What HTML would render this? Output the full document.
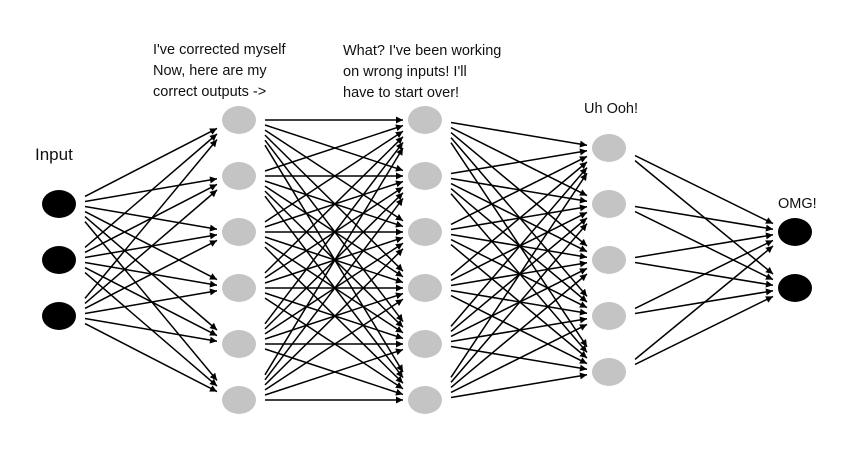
<!DOCTYPE html>
<html><head><meta charset="utf-8"><style>
html,body{margin:0;padding:0;background:#fff;width:841px;height:451px;overflow:hidden}
svg{display:block}
text{font-family:"Liberation Sans",sans-serif;fill:#111}
</style></head><body>
<svg id="s" width="841" height="451" viewBox="0 0 841 451" xmlns="http://www.w3.org/2000/svg">
<defs><marker id="a" viewBox="0 0 10 10" refX="10" refY="5" markerWidth="11" markerHeight="7" markerUnits="userSpaceOnUse" orient="auto"><path d="M0,0L10,5L0,10z" fill="#000"/></marker></defs>
<g id="L" stroke="#000" stroke-width="1.5"></g>
<g id="N"></g>
<text x="35" y="160" font-size="17">Input</text>
<text x="153" y="54" font-size="14.5">I've corrected myself</text>
<text x="153" y="75" font-size="14.5">Now, here are my</text>
<text x="153" y="96" font-size="14.5">correct outputs -&gt;</text>
<text x="343" y="55" font-size="14.5">What? I've been working</text>
<text x="343" y="76" font-size="14.5">on wrong inputs! I'll</text>
<text x="343" y="97" font-size="14.5">have to start over!</text>
<text x="584" y="113" font-size="14.5">Uh Ooh!</text>
<text x="778" y="208" font-size="14.5">OMG!</text>
</svg>
<script>
var layers=[
 {x:59,ys:[204,260,316],c:"#000"},
 {x:239,ys:[120,176,232,288,344,400],c:"#c4c4c4"},
 {x:425,ys:[120,176,232,288,344,400],c:"#c4c4c4"},
 {x:609,ys:[148,204,260,316,372],c:"#c4c4c4"},
 {x:795,ys:[232,288],c:"#000"}];
var NS="http://www.w3.org/2000/svg",L=document.getElementById("L"),N=document.getElementById("N");
for(var i=0;i<layers.length-1;i++){var A=layers[i],B=layers[i+1];
 A.ys.forEach(function(y1){B.ys.forEach(function(y2){
  var dy=(y2-y1);var x1=A.x+26,x2=B.x-22;
  var sy=y1+dy*0.09, ey=y2-dy*0.10;
  var l=document.createElementNS(NS,"line");
  l.setAttribute("x1",x1);l.setAttribute("y1",sy.toFixed(1));
  l.setAttribute("x2",x2);l.setAttribute("y2",ey.toFixed(1));
  l.setAttribute("marker-end","url(#a)");L.appendChild(l);});});}
layers.forEach(function(Ly){Ly.ys.forEach(function(y){
 var e=document.createElementNS(NS,"ellipse");e.setAttribute("cx",Ly.x);e.setAttribute("cy",y);
 e.setAttribute("rx",17);e.setAttribute("ry",14);e.setAttribute("fill",Ly.c);N.appendChild(e);});});
</script>
</body></html>
